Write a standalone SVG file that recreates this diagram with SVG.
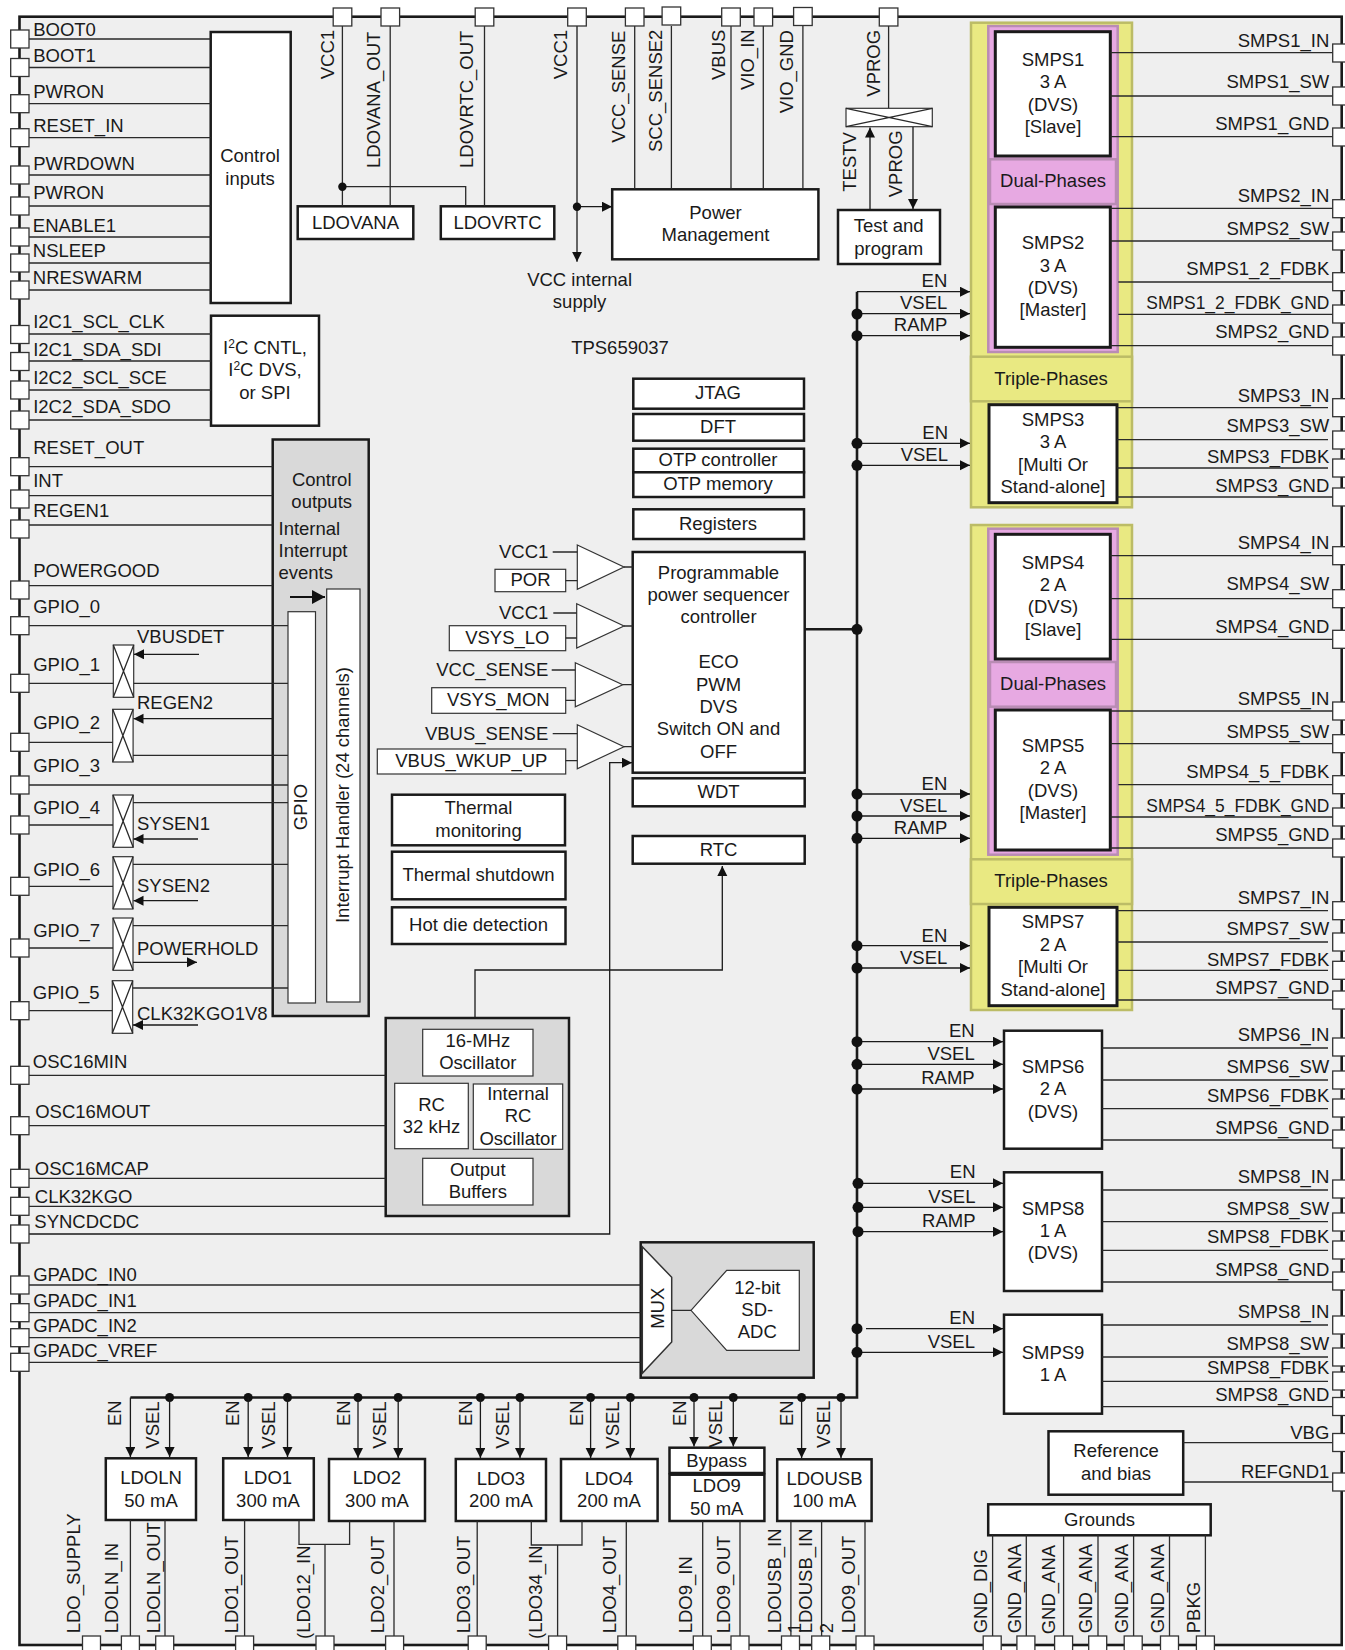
<svg xmlns="http://www.w3.org/2000/svg" width="1345" height="1650" viewBox="0 0 1345 1650">
<style>
text{font-family:"Liberation Sans",Arial,sans-serif;font-size:18.5px;fill:#1a1a1a}
.m{text-anchor:middle}.e{text-anchor:end}
.b{fill:#fff;stroke:#1a1a1a;stroke-width:2.5}
.t{fill:#fff;stroke:#333;stroke-width:1.2}
.g{fill:#d9d9d9;stroke:#1a1a1a;stroke-width:2.5}
.y{fill:#e9e982;stroke:#bcbc66;stroke-width:2.5}
.p{fill:#e7a9e2;stroke:#b98cb4;stroke-width:2.5}
.pin{fill:#fff;stroke:#333;stroke-width:1.3}
.l{fill:none;stroke:#2a2a2a;stroke-width:1.3}
.a{fill:none;stroke:#1a1a1a;stroke-width:1.3;marker-end:url(#ah)}
.bus{fill:none;stroke:#1a1a1a;stroke-width:2.6}
.d{fill:#111}
</style>
<defs>
<marker id="ah" markerUnits="userSpaceOnUse" markerWidth="11" markerHeight="11" refX="10" refY="5" orient="auto"><path d="M0,0L10,5L0,10z" fill="#111"/></marker>
<marker id="ahb" markerUnits="userSpaceOnUse" markerWidth="14" markerHeight="14" refX="13" refY="7" orient="auto"><path d="M0,0L13,7L0,14z" fill="#111"/></marker>
</defs>
<rect width="1345" height="1650" fill="#fff"/>
<rect id="chip" x="19.5" y="16.7" width="1322.2" height="1628.3" fill="#efefef" stroke="#1a1a1a" stroke-width="2.6"/>

<g id="control-inputs"><rect class="b" x="210.7" y="32" width="80" height="271"/><text class="m" x="250" y="162">Control</text><text class="m" x="250" y="185">inputs</text></g>
<g id="i2c"><rect class="b" x="211" y="315.7" width="108" height="110"/><text class="m" x="265" y="354">I<tspan dy="-6" font-size="12">2</tspan><tspan dy="6">C CNTL,</tspan></text><text class="m" x="265" y="376">I<tspan dy="-6" font-size="12">2</tspan><tspan dy="6">C DVS,</tspan></text><text class="m" x="265" y="398.7">or SPI</text></g>
<g id="control-outputs"><rect class="g" x="272.7" y="439.5" width="96" height="576.5"/><text class="m" x="321.7" y="486">Control</text><text class="m" x="321.7" y="508">outputs</text><text x="278.5" y="535">Internal</text><text x="278.5" y="557">Interrupt</text><text x="278.5" y="579">events</text></g>
<g id="gpio"><rect class="t" x="288" y="611.7" width="27.5" height="391.3"/><text class="m" transform="translate(307,807) rotate(-90)">GPIO</text></g>
<g id="interrupt-handler"><rect class="t" x="326.7" y="589" width="33.3" height="413"/><text class="m" transform="translate(349,795) rotate(-90)">Interrupt Handler (24 channels)</text></g>

<g id="mux-gpio1"><rect class="t" x="113.3" y="645" width="20.4" height="52.3"/><path class="l" d="M113.3,645L133.7,697.3M133.7,645L113.3,697.3"/></g>
<g id="mux-gpio2"><rect class="t" x="112.7" y="709.3" width="20.4" height="52.7"/><path class="l" d="M112.7,709.3L133.1,762M133.1,709.3L112.7,762"/></g>
<g id="mux-gpio4"><rect class="t" x="113" y="795" width="20.2" height="52.3"/><path class="l" d="M113,795L133.2,847.3M133.2,795L113,847.3"/></g>
<g id="mux-gpio6"><rect class="t" x="113" y="856.7" width="20" height="52.3"/><path class="l" d="M113,856.7L133,909M133,856.7L113,909"/></g>
<g id="mux-gpio7"><rect class="t" x="113" y="918" width="20" height="52.3"/><path class="l" d="M113,918L133,970.3M133,918L113,970.3"/></g>
<g id="mux-gpio5"><rect class="t" x="112.3" y="980.7" width="20.4" height="52.6"/><path class="l" d="M112.3,980.7L132.7,1033.3M132.7,980.7L112.3,1033.3"/></g>

<g id="ldovana"><rect class="b" x="297.7" y="206.3" width="115.6" height="32.7"/><text class="m" x="355.5" y="229">LDOVANA</text></g>
<g id="ldovrtc"><rect class="b" x="440.8" y="206.3" width="113.5" height="32.7"/><text class="m" x="497.5" y="229">LDOVRTC</text></g>
<g id="power-management"><rect class="b" x="612.2" y="189.3" width="206.2" height="70"/><text class="m" x="715.5" y="219">Power</text><text class="m" x="715.5" y="241">Management</text></g>
<g id="vprog-switch"><rect class="t" x="846" y="108.3" width="86.3" height="18.4"/><path class="l" d="M846,108.3L932.3,126.7M932.3,108.3L846,126.7"/></g>
<g id="test-program"><rect class="b" x="838" y="210" width="102" height="54"/><text class="m" x="888.7" y="232">Test and</text><text class="m" x="888.7" y="254.7">program</text></g>

<g id="vcc-internal"><text class="m" x="579.6" y="285.7">VCC internal</text><text class="m" x="579.6" y="308">supply</text></g>
<text id="part-number" class="m" x="620" y="354">TPS659037</text>

<g id="jtag"><rect class="b" x="633.3" y="378.7" width="170.7" height="30"/><text class="m" x="718" y="399.3">JTAG</text></g>
<g id="dft"><rect class="b" x="633.3" y="414" width="170.7" height="26.7"/><text class="m" x="718" y="432.7">DFT</text></g>
<g id="otp-controller"><rect class="b" x="633.3" y="448.7" width="170.7" height="23.6"/><text class="m" x="718" y="466">OTP controller</text></g>
<g id="otp-memory"><rect class="b" x="633.3" y="472.3" width="170.7" height="24.7"/><text class="m" x="718" y="490">OTP memory</text></g>
<g id="registers"><rect class="b" x="633.3" y="509.3" width="170.7" height="29.7"/><text class="m" x="718" y="530.3">Registers</text></g>
<g id="sequencer"><rect class="b" x="632.7" y="552" width="172" height="220.7"/><text class="m" x="718.5" y="579.3">Programmable</text><text class="m" x="718.5" y="601">power sequencer</text><text class="m" x="718.5" y="623.3">controller</text><text class="m" x="718.5" y="667.7">ECO</text><text class="m" x="718.5" y="691">PWM</text><text class="m" x="718.5" y="712.7">DVS</text><text class="m" x="718.5" y="735">Switch ON and</text><text class="m" x="718.5" y="757.7">OFF</text></g>
<g id="wdt"><rect class="b" x="632.7" y="778.3" width="172" height="28"/><text class="m" x="718.5" y="798">WDT</text></g>
<g id="rtc"><rect class="b" x="632.7" y="836" width="172" height="27.7"/><text class="m" x="718.5" y="856">RTC</text></g>

<g id="cmp-por"><polygon class="t" points="577.3,545 624,567 577.3,589.3"/><rect class="t" x="495" y="569.3" width="70.7" height="22.4"/><text class="m" x="530.5" y="586">POR</text><text class="e" x="548.3" y="558">VCC1</text></g>
<g id="cmp-vsys-lo"><polygon class="t" points="576.7,603.7 624,626 576.7,648"/><rect class="t" x="449.3" y="625.7" width="116.4" height="25"/><text class="m" x="507.3" y="644.3">VSYS_LO</text><text class="e" x="548.3" y="619">VCC1</text></g>
<g id="cmp-vsys-mon"><polygon class="t" points="575.3,662.7 622.7,684.7 575.3,706.7"/><rect class="t" x="431.7" y="687.7" width="134" height="25.6"/><text class="m" x="498.3" y="706">VSYS_MON</text><text class="e" x="548.3" y="675.7">VCC_SENSE</text></g>
<g id="cmp-vbus"><polygon class="t" points="577.3,724.7 624,746.7 577.3,768.7"/><rect class="t" x="377.3" y="749" width="188.4" height="25"/><text class="m" x="471.3" y="767">VBUS_WKUP_UP</text><text class="e" x="548.3" y="740">VBUS_SENSE</text></g>

<g id="thermal-monitoring"><rect class="b" x="392" y="794.7" width="173" height="50.6"/><text class="m" x="478.5" y="814">Thermal</text><text class="m" x="478.5" y="837.3">monitoring</text></g>
<g id="thermal-shutdown"><rect class="b" x="392" y="851.7" width="173.5" height="47.6"/><text class="m" x="478.5" y="881">Thermal shutdown</text></g>
<g id="hot-die"><rect class="b" x="392" y="907.3" width="173.5" height="36.7"/><text class="m" x="478.5" y="931.3">Hot die detection</text></g>

<g id="oscillators"><rect class="g" x="385.7" y="1018" width="183.3" height="198"/>
<rect class="t" x="422.7" y="1029.3" width="110.3" height="46.7"/><text class="m" x="477.8" y="1047.3">16-MHz</text><text class="m" x="477.8" y="1069">Oscillator</text>
<rect class="t" x="394.7" y="1083.3" width="73.6" height="65.4"/><text class="m" x="431.5" y="1111">RC</text><text class="m" x="431.5" y="1133.3">32 kHz</text>
<rect class="t" x="473.3" y="1084" width="89.4" height="65.3"/><text class="m" x="518" y="1100">Internal</text><text class="m" x="518" y="1122">RC</text><text class="m" x="518" y="1144.7">Oscillator</text>
<rect class="t" x="422.7" y="1158.3" width="110.3" height="46.7"/><text class="m" x="477.8" y="1176">Output</text><text class="m" x="477.8" y="1198">Buffers</text></g>

<g id="adc"><rect class="g" x="640.7" y="1242.3" width="173" height="135.4"/>
<polygon class="t" style="stroke-width:1.5" points="642.3,1246.7 671.7,1277.3 671.7,1342 642.3,1373.3"/><text class="m" transform="translate(664,1308.3) rotate(-90)">MUX</text>
<polygon class="t" points="691,1310.3 726.7,1270.3 799.3,1270.3 799.3,1350.3 726.7,1350.3"/><text class="m" x="757.3" y="1294">12-bit</text><text class="m" x="757.3" y="1316">SD-</text><text class="m" x="757.3" y="1337.7">ADC</text></g>

<g id="triple-phase-1"><rect class="y" x="971" y="22.7" width="161" height="484.6"/><rect class="y" x="971" y="356.7" width="161" height="44.6"/><text class="m" x="1051" y="385">Triple-Phases</text></g>
<g id="dual-phase-1"><rect class="p" x="988.3" y="26" width="129.4" height="326"/><rect class="p" x="990" y="159.3" width="126" height="44.7"/><text class="m" x="1053" y="187">Dual-Phases</text></g>
<g id="smps1"><rect class="b" style="stroke-width:3" x="995.3" y="31.7" width="115" height="124.3"/><text class="m" x="1053" y="66">SMPS1</text><text class="m" x="1053" y="88">3 A</text><text class="m" x="1053" y="110.7">(DVS)</text><text class="m" x="1053" y="133">[Slave]</text></g>
<g id="smps2"><rect class="b" style="stroke-width:3" x="995.3" y="207" width="115" height="140.3"/><text class="m" x="1053" y="248.7">SMPS2</text><text class="m" x="1053" y="272">3 A</text><text class="m" x="1053" y="294">(DVS)</text><text class="m" x="1053" y="316">[Master]</text></g>
<g id="smps3"><rect class="b" style="stroke-width:3" x="989" y="404.7" width="128" height="98"/><text class="m" x="1053" y="425.7">SMPS3</text><text class="m" x="1053" y="448">3 A</text><text class="m" x="1053" y="471">[Multi Or</text><text class="m" x="1053" y="493">Stand-alone]</text></g>

<g id="triple-phase-2"><rect class="y" x="971" y="525" width="161" height="485"/><rect class="y" x="971" y="859.3" width="161" height="44.7"/><text class="m" x="1051" y="887">Triple-Phases</text></g>
<g id="dual-phase-2"><rect class="p" x="988.3" y="528.7" width="129.4" height="326"/><rect class="p" x="990" y="662" width="126" height="44.7"/><text class="m" x="1053" y="690">Dual-Phases</text></g>
<g id="smps4"><rect class="b" style="stroke-width:3" x="995.3" y="534.3" width="115" height="124.7"/><text class="m" x="1053" y="569.3">SMPS4</text><text class="m" x="1053" y="591.3">2 A</text><text class="m" x="1053" y="613.3">(DVS)</text><text class="m" x="1053" y="636">[Slave]</text></g>
<g id="smps5"><rect class="b" style="stroke-width:3" x="995.3" y="710" width="115" height="140"/><text class="m" x="1053" y="752">SMPS5</text><text class="m" x="1053" y="774.3">2 A</text><text class="m" x="1053" y="797.3">(DVS)</text><text class="m" x="1053" y="819.3">[Master]</text></g>
<g id="smps7"><rect class="b" style="stroke-width:3" x="989" y="907.3" width="128" height="98.4"/><text class="m" x="1053" y="928.3">SMPS7</text><text class="m" x="1053" y="951">2 A</text><text class="m" x="1053" y="973.3">[Multi Or</text><text class="m" x="1053" y="996">Stand-alone]</text></g>
<g id="smps6"><rect class="b" x="1004" y="1030.7" width="98" height="118"/><text class="m" x="1053" y="1072.7">SMPS6</text><text class="m" x="1053" y="1095">2 A</text><text class="m" x="1053" y="1117.7">(DVS)</text></g>
<g id="smps8"><rect class="b" x="1004" y="1172.3" width="98" height="118.7"/><text class="m" x="1053" y="1215">SMPS8</text><text class="m" x="1053" y="1237">1 A</text><text class="m" x="1053" y="1259.3">(DVS)</text></g>
<g id="smps9"><rect class="b" x="1004" y="1314.7" width="98" height="99"/><text class="m" x="1053" y="1359">SMPS9</text><text class="m" x="1053" y="1381">1 A</text></g>
<g id="reference"><rect class="b" x="1048.5" y="1431.3" width="134.7" height="63.4"/><text class="m" x="1116" y="1457">Reference</text><text class="m" x="1116" y="1480">and bias</text></g>
<g id="grounds"><rect class="b" x="988.2" y="1504.3" width="222.5" height="31"/><text class="m" x="1099.6" y="1525.7">Grounds</text></g>

<g id="ldoln"><rect class="b" x="105.8" y="1458.3" width="90.2" height="61.7"/><text class="m" x="151" y="1484">LDOLN</text><text class="m" x="151" y="1507">50 mA</text></g>
<g id="ldo1"><rect class="b" x="223.2" y="1458.3" width="90.6" height="61.7"/><text class="m" x="268" y="1484">LDO1</text><text class="m" x="268" y="1507">300 mA</text></g>
<g id="ldo2"><rect class="b" x="329" y="1459" width="96" height="62"/><text class="m" x="377" y="1484">LDO2</text><text class="m" x="377" y="1507">300 mA</text></g>
<g id="ldo3"><rect class="b" x="455.8" y="1459" width="90.2" height="62"/><text class="m" x="501" y="1485">LDO3</text><text class="m" x="501" y="1507">200 mA</text></g>
<g id="ldo4"><rect class="b" x="561" y="1459" width="96.6" height="62"/><text class="m" x="609" y="1485">LDO4</text><text class="m" x="609" y="1507">200 mA</text></g>
<g id="ldo9"><rect class="b" x="669.5" y="1447.7" width="94.9" height="25.3"/><text class="m" x="716.7" y="1466.7">Bypass</text><rect class="b" x="669.5" y="1474.7" width="94.9" height="46.3"/><text class="m" x="716.7" y="1491.7">LDO9</text><text class="m" x="716.7" y="1515">50 mA</text></g>
<g id="ldousb"><rect class="b" x="777.2" y="1459.3" width="94.4" height="61.7"/><text class="m" x="824.5" y="1485">LDOUSB</text><text class="m" x="824.5" y="1507">100 mA</text></g>

<g id="connectors">
<path class="l" d="M29,39H210.7M29,67.5H210.7M29,103.7H210.7M29,137.7H210.7M29,175H210.7M29,206H210.7M29,237H210.7M29,263H210.7M29,290H210.7M29,334H211M29,361H211M29,390H211M29,420H211"/>
<path class="l" d="M29,466.7H272.7M29,495.7H272.7M29,525H272.7M29,585.7H272.7M29,625.7H288M29,683.3H113.3M133.7,683.3H288M29,742.3H112.7M133,755.3H288M29,785H288M29,825H113M133,802.7H288M29,886.3H113M133,864.3H288M29,948H113M133,925.7H288M29,1010.7H112.3M132.7,988H288"/>
<path class="a" d="M199,654.3H134"/><path class="a" d="M272.7,718.7H133.5"/><path class="a" d="M198,839H133.5"/><path class="a" d="M198,900.7H133.5"/><path class="a" d="M133,962.3H197"/><path class="a" d="M198,1025H133"/>
<path fill="none" stroke="#111" stroke-width="2" marker-end="url(#ahb)" d="M290,597H325"/>
<path class="l" d="M29,1075.3H385.7M29,1125.7H385.7M29,1178.3H385.7M29,1206.3H385.7"/>
<path class="a" d="M29,1234H609.7V762.7H632"/>
<path class="a" d="M475,1018V970H722.3V866"/>
<path class="l" d="M29,1285H640.7M29,1312.7H640.7M29,1337.7H640.7M29,1362.3H640.7M671.7,1310.3H691"/>
<path class="l" d="M342.4,26V206M390.2,26V206M484.5,26V206M342.4,186.7H465.7V206"/>
<circle class="d" cx="342.4" cy="186.7" r="4.2"/>
<path class="a" d="M577,26V261.7"/><path class="a" d="M577,206.7H612"/><circle class="d" cx="577" cy="206.7" r="4.2"/>
<path class="l" d="M634.7,26V189M671.4,26V189M731,26V189M763.3,26V189M802.9,26V189M888.6,26V108"/>
<path class="a" d="M870,210V127.5"/><path class="a" d="M913,127V209"/>
<path class="l" d="M552.7,552H577.3M565.7,580.7H577.3M624,567H632.7M553.3,613H576.7M565.7,638H576.7M624,626H632.7M551.7,670H575.3M565.7,700.3H575.3M622.7,684.7H632.7M552.7,733.7H577.3M565.7,760.7H577.3M624,746.7H632.7"/>
<path class="bus" d="M804.7,629.3H857M857,291.7V1397.5H130.4"/>
<path class="a" d="M857,291.7H970"/><path class="a" d="M857,313.7H970"/><path class="a" d="M857,335.7H970"/><path class="a" d="M857,443.3H970"/><path class="a" d="M857,465.3H970"/>
<path class="a" d="M857,794H970"/><path class="a" d="M857,816H970"/><path class="a" d="M857,838.3H970"/><path class="a" d="M857,945.7H970"/><path class="a" d="M857,968H970"/>
<path class="a" d="M857,1041.7H1003"/><path class="a" d="M857,1064.3H1003"/><path class="a" d="M857,1089H1003"/><path class="a" d="M857,1183.3H1003"/><path class="a" d="M857,1207.3H1003"/><path class="a" d="M857,1231.7H1003"/><path class="a" d="M866,1328.7H1003"/><path class="a" d="M857,1352.3H1003"/>
<g class="d"><circle cx="857" cy="314" r="5.5"/><circle cx="857" cy="335.7" r="5.5"/><circle cx="857" cy="443.3" r="5.5"/><circle cx="857" cy="465.3" r="5.5"/><circle cx="857" cy="629.3" r="5.5"/><circle cx="857" cy="794" r="5.5"/><circle cx="857" cy="816" r="5.5"/><circle cx="857" cy="838.3" r="5.5"/><circle cx="857" cy="945.7" r="5.5"/><circle cx="857" cy="968" r="5.5"/><circle cx="857" cy="1041.7" r="5.5"/><circle cx="857" cy="1064.3" r="5.5"/><circle cx="857" cy="1089" r="5.5"/><circle cx="858" cy="1183.3" r="5.5"/><circle cx="858" cy="1207.3" r="5.5"/><circle cx="858" cy="1231.7" r="5.5"/><circle cx="857" cy="1328.7" r="5.5"/><circle cx="857" cy="1352.3" r="5.5"/>
<circle cx="169.6" cy="1397.5" r="4.5"/><circle cx="248.2" cy="1397.5" r="4.5"/><circle cx="287.5" cy="1397.5" r="4.5"/><circle cx="358" cy="1397.5" r="4.5"/><circle cx="398.2" cy="1397.5" r="4.5"/><circle cx="480.4" cy="1397.5" r="4.5"/><circle cx="520" cy="1397.5" r="4.5"/><circle cx="590.6" cy="1397.5" r="4.5"/><circle cx="630.4" cy="1397.5" r="4.5"/><circle cx="694" cy="1397.5" r="4.5"/><circle cx="733.3" cy="1397.5" r="4.5"/><circle cx="801.6" cy="1397.5" r="4.5"/><circle cx="841" cy="1397.5" r="4.5"/></g>
<path class="a" d="M130.4,1397.5V1457"/><path class="a" d="M169.6,1397.5V1457"/><path class="a" d="M248.2,1397.5V1457"/><path class="a" d="M287.5,1397.5V1457"/><path class="a" d="M358,1397.5V1458"/><path class="a" d="M398.2,1397.5V1458"/><path class="a" d="M480.4,1397.5V1458"/><path class="a" d="M520,1397.5V1458"/><path class="a" d="M590.6,1397.5V1458"/><path class="a" d="M630.4,1397.5V1458"/><path class="a" d="M694,1397.5V1446.5"/><path class="a" d="M733.3,1397.5V1446.5"/><path class="a" d="M801.6,1397.5V1458"/><path class="a" d="M841,1397.5V1458"/>
<path class="l" d="M130.4,1520V1636M165,1520V1636M244.6,1520V1636M299,1520V1544.3H349.6V1521M325,1544.3V1636M394,1521V1636M477.2,1521V1636M531.3,1521V1545H582V1521M557.6,1545V1636M626.3,1521V1636M702.7,1521V1636M740,1521V1636M790.9,1521V1636M821.6,1521V1636M865,1521V1636"/>
<path class="l" d="M992.6,1535V1636M1026.3,1535V1636M1063.6,1535V1636M1098,1535V1636M1133.6,1535V1636M1169.5,1535V1636M1205.4,1535V1636"/>
<path class="l" d="M1110.3,52.7H1333M1110.3,96H1333M1110.3,136.7H1333M1110.3,208.3H1333M1110.3,241H1333M1118.3,282H1333M1118.3,314.3H1333M1110.3,345.7H1333M1117,407.7H1328M1117,439.7H1328M1117,468H1328M1117,497H1333"/>
<path class="l" d="M1110.3,555.7H1333M1110.3,598.7H1333M1110.3,639.3H1333M1110.3,711H1333M1110.3,743.7H1333M1118.3,784.7H1333M1110.3,817H1333M1110.3,848H1333M1117,910.7H1328M1117,942H1328M1117,970.3H1328M1117,1000H1333"/>
<path class="l" d="M1102,1048H1328M1102,1080H1328M1102,1108.7H1328M1102,1140H1333M1102,1190H1328M1102,1221.7H1328M1102,1250.3H1328M1102,1282H1333M1102,1325H1328M1102,1357H1328M1102,1381.3H1328M1102,1406.7H1333M1183.2,1442.7H1333M1183.2,1482H1333"/>
</g>

<g id="bus-labels">
<text class="e" x="947.3" y="286.7">EN</text><text class="e" x="947.3" y="309">VSEL</text><text class="e" x="947.3" y="331">RAMP</text><text class="e" x="948" y="438.7">EN</text><text class="e" x="948" y="460.7">VSEL</text>
<text class="e" x="947.3" y="790">EN</text><text class="e" x="947.3" y="811.7">VSEL</text><text class="e" x="947.3" y="833.7">RAMP</text><text class="e" x="947.3" y="942">EN</text><text class="e" x="947.3" y="964">VSEL</text>
<text class="e" x="974.7" y="1036.7">EN</text><text class="e" x="974.7" y="1060">VSEL</text><text class="e" x="974.7" y="1084">RAMP</text><text class="e" x="975.5" y="1178">EN</text><text class="e" x="975.5" y="1202.7">VSEL</text><text class="e" x="975.5" y="1226.7">RAMP</text><text class="e" x="975" y="1324">EN</text><text class="e" x="975" y="1347.7">VSEL</text>
<text transform="translate(121.4,1426) rotate(-90)">EN</text><text transform="translate(158.5,1448.7) rotate(-90)">VSEL</text><text transform="translate(239,1426) rotate(-90)">EN</text><text transform="translate(275.4,1448.7) rotate(-90)">VSEL</text><text transform="translate(350,1426) rotate(-90)">EN</text><text transform="translate(386,1448.7) rotate(-90)">VSEL</text><text transform="translate(472.3,1426) rotate(-90)">EN</text><text transform="translate(509,1448.7) rotate(-90)">VSEL</text><text transform="translate(583,1426) rotate(-90)">EN</text><text transform="translate(619,1448.7) rotate(-90)">VSEL</text><text transform="translate(685.5,1426) rotate(-90)">EN</text><text transform="translate(721.8,1447.7) rotate(-90)">VSEL</text><text transform="translate(792.7,1426) rotate(-90)">EN</text><text transform="translate(829.5,1448) rotate(-90)">VSEL</text>
<text x="137" y="643">VBUSDET</text><text x="137" y="709">REGEN2</text><text x="137" y="830">SYSEN1</text><text x="137" y="892">SYSEN2</text><text x="137" y="955">POWERHOLD</text><text x="137" y="1020">CLK32KGO1V8</text>
<text transform="translate(856,191.7) rotate(-90)">TESTV</text><text transform="translate(902.3,197.3) rotate(-90)">VPROG</text>
</g>

<g id="pins-left">
<g id="pin-boot0"><rect class="pin" x="10.7" y="30" width="18.3" height="18"/><text x="33.2" y="36">BOOT0</text></g>
<g id="pin-boot1"><rect class="pin" x="10.7" y="58.5" width="18.3" height="18"/><text x="33.2" y="62">BOOT1</text></g>
<g id="pin-pwron"><rect class="pin" x="10.7" y="94.7" width="18.3" height="18"/><text x="33.2" y="97.7">PWRON</text></g>
<g id="pin-reset-in"><rect class="pin" x="10.7" y="128.7" width="18.3" height="18"/><text x="33.2" y="132">RESET_IN</text></g>
<g id="pin-pwrdown"><rect class="pin" x="10.7" y="166" width="18.3" height="18"/><text x="33.2" y="170">PWRDOWN</text></g>
<g id="pin-pwron2"><rect class="pin" x="10.7" y="197" width="18.3" height="18"/><text x="33.2" y="199">PWRON</text></g>
<g id="pin-enable1"><rect class="pin" x="10.7" y="228" width="18.3" height="18"/><text x="32.8" y="232">ENABLE1</text></g>
<g id="pin-nsleep"><rect class="pin" x="10.7" y="254" width="18.3" height="18"/><text x="32.8" y="257">NSLEEP</text></g>
<g id="pin-nreswarm"><rect class="pin" x="10.7" y="281" width="18.3" height="18"/><text x="32.8" y="284">NRESWARM</text></g>
<g id="pin-i2c1-scl"><rect class="pin" x="10.7" y="325.5" width="18.3" height="18"/><text x="33.2" y="328">I2C1_SCL_CLK</text></g>
<g id="pin-i2c1-sda"><rect class="pin" x="10.7" y="352.5" width="18.3" height="18"/><text x="33.2" y="356">I2C1_SDA_SDI</text></g>
<g id="pin-i2c2-scl"><rect class="pin" x="10.7" y="381" width="18.3" height="18"/><text x="33.2" y="384">I2C2_SCL_SCE</text></g>
<g id="pin-i2c2-sda"><rect class="pin" x="10.7" y="411" width="18.3" height="18"/><text x="33.2" y="413">I2C2_SDA_SDO</text></g>
<g id="pin-reset-out"><rect class="pin" x="10.7" y="457.7" width="18.3" height="18"/><text x="33.2" y="454">RESET_OUT</text></g>
<g id="pin-int"><rect class="pin" x="10.7" y="490" width="18.3" height="18"/><text x="33.2" y="487">INT</text></g>
<g id="pin-regen1"><rect class="pin" x="10.7" y="520" width="18.3" height="18"/><text x="33.2" y="517">REGEN1</text></g>
<g id="pin-powergood"><rect class="pin" x="10.7" y="581" width="18.3" height="18"/><text x="33.2" y="577">POWERGOOD</text></g>
<g id="pin-gpio0"><rect class="pin" x="10.7" y="616.7" width="18.3" height="18"/><text x="33.2" y="613">GPIO_0</text></g>
<g id="pin-gpio1"><rect class="pin" x="10.7" y="674.3" width="18.3" height="18"/><text x="33.2" y="671">GPIO_1</text></g>
<g id="pin-gpio2"><rect class="pin" x="10.7" y="733.3" width="18.3" height="18"/><text x="33.2" y="729">GPIO_2</text></g>
<g id="pin-gpio3"><rect class="pin" x="10.7" y="776" width="18.3" height="18"/><text x="33.2" y="772">GPIO_3</text></g>
<g id="pin-gpio4"><rect class="pin" x="10.7" y="816" width="18.3" height="18"/><text x="33.2" y="814">GPIO_4</text></g>
<g id="pin-gpio6"><rect class="pin" x="10.7" y="877.3" width="18.3" height="18"/><text x="33.2" y="876">GPIO_6</text></g>
<g id="pin-gpio7"><rect class="pin" x="10.7" y="939" width="18.3" height="18"/><text x="33.2" y="936.5">GPIO_7</text></g>
<g id="pin-gpio5"><rect class="pin" x="10.7" y="1001.7" width="18.3" height="18"/><text x="32.8" y="998.7">GPIO_5</text></g>
<g id="pin-osc16min"><rect class="pin" x="10.7" y="1066.3" width="18.3" height="18"/><text x="32.8" y="1068">OSC16MIN</text></g>
<g id="pin-osc16mout"><rect class="pin" x="10.7" y="1116.7" width="18.3" height="18"/><text x="35.2" y="1118">OSC16MOUT</text></g>
<g id="pin-osc16mcap"><rect class="pin" x="10.7" y="1169.3" width="18.3" height="18"/><text x="34.8" y="1175">OSC16MCAP</text></g>
<g id="pin-clk32kgo"><rect class="pin" x="10.7" y="1197.3" width="18.3" height="18"/><text x="34.8" y="1203">CLK32KGO</text></g>
<g id="pin-syncdcdc"><rect class="pin" x="10.7" y="1225" width="18.3" height="18"/><text x="34.3" y="1228">SYNCDCDC</text></g>
<g id="pin-gpadc0"><rect class="pin" x="10.7" y="1276" width="18.3" height="18"/><text x="33.2" y="1281">GPADC_IN0</text></g>
<g id="pin-gpadc1"><rect class="pin" x="10.7" y="1303.7" width="18.3" height="18"/><text x="33.2" y="1307">GPADC_IN1</text></g>
<g id="pin-gpadc2"><rect class="pin" x="10.7" y="1328.7" width="18.3" height="18"/><text x="33.2" y="1332">GPADC_IN2</text></g>
<g id="pin-gpadc-vref"><rect class="pin" x="10.7" y="1353.3" width="18.3" height="18"/><text x="33.2" y="1357">GPADC_VREF</text></g>
</g>

<g id="pins-top">
<g id="pin-vcc1"><rect class="pin" x="333.2" y="8" width="18.6" height="18"/><text transform="translate(333.5,79.3) rotate(-90)">VCC1</text></g>
<g id="pin-ldovana-out"><rect class="pin" x="381" y="8" width="18.6" height="18"/><text transform="translate(379.6,168) rotate(-90)">LDOVANA_OUT</text></g>
<g id="pin-ldovrtc-out"><rect class="pin" x="475.2" y="8" width="18.6" height="18"/><text transform="translate(472.6,168) rotate(-90)">LDOVRTC_OUT</text></g>
<g id="pin-vcc1b"><rect class="pin" x="567.7" y="8" width="18.6" height="18"/><text transform="translate(567,79.3) rotate(-90)">VCC1</text></g>
<g id="pin-vcc-sense"><rect class="pin" x="625.4" y="8" width="18.6" height="18"/><text transform="translate(625,142.7) rotate(-90)">VCC_SENSE</text></g>
<g id="pin-scc-sense2"><rect class="pin" x="662.1" y="7" width="18.6" height="18"/><text transform="translate(662,152) rotate(-90)">SCC_SENSE2</text></g>
<g id="pin-vbus"><rect class="pin" x="721.7" y="8" width="18.6" height="18"/><text transform="translate(724.5,80) rotate(-90)">VBUS</text></g>
<g id="pin-vio-in"><rect class="pin" x="754" y="8" width="18.6" height="18"/><text transform="translate(754,90) rotate(-90)">VIO_IN</text></g>
<g id="pin-vio-gnd"><rect class="pin" x="793.6" y="7.5" width="18.6" height="18"/><text transform="translate(793,113.3) rotate(-90)">VIO_GND</text></g>
<g id="pin-vprog"><rect class="pin" x="879.3" y="8" width="18.6" height="18"/><text transform="translate(879.6,96.7) rotate(-90)">VPROG</text></g>
</g>

<g id="pins-right">
<g id="pin-s1in"><rect class="pin" x="1332.7" y="44" width="18.3" height="18"/><text class="e" x="1329.3" y="46.7">SMPS1_IN</text></g>
<g id="pin-s1sw"><rect class="pin" x="1332.7" y="87" width="18.3" height="18"/><text class="e" x="1329.3" y="88.3">SMPS1_SW</text></g>
<g id="pin-s1gnd"><rect class="pin" x="1332.7" y="128" width="18.3" height="18"/><text class="e" x="1329.3" y="130">SMPS1_GND</text></g>
<g id="pin-s2in"><rect class="pin" x="1332.7" y="199.7" width="18.3" height="18"/><text class="e" x="1329.3" y="201.7">SMPS2_IN</text></g>
<g id="pin-s2sw"><rect class="pin" x="1332.7" y="232" width="18.3" height="18"/><text class="e" x="1329.3" y="235">SMPS2_SW</text></g>
<g id="pin-s12fb"><rect class="pin" x="1332.7" y="272.7" width="18.3" height="18"/><text class="e" x="1329.3" y="275" textLength="143" lengthAdjust="spacingAndGlyphs">SMPS1_2_FDBK</text></g>
<g id="pin-s12fbg"><rect class="pin" x="1332.7" y="305" width="18.3" height="18"/><text class="e" x="1329.3" y="309.3" textLength="183" lengthAdjust="spacingAndGlyphs">SMPS1_2_FDBK_GND</text></g>
<g id="pin-s2gnd"><rect class="pin" x="1332.7" y="337" width="18.3" height="18"/><text class="e" x="1329.3" y="337.7">SMPS2_GND</text></g>
<g id="pin-s3in"><rect class="pin" x="1332.7" y="398.7" width="18.3" height="18"/><text class="e" x="1329.3" y="402">SMPS3_IN</text></g>
<g id="pin-s3sw"><rect class="pin" x="1332.7" y="431" width="18.3" height="18"/><text class="e" x="1329.3" y="432.3">SMPS3_SW</text></g>
<g id="pin-s3fb"><rect class="pin" x="1332.7" y="459" width="18.3" height="18"/><text class="e" x="1329.3" y="462.7">SMPS3_FDBK</text></g>
<g id="pin-s3gnd"><rect class="pin" x="1332.7" y="488" width="18.3" height="18"/><text class="e" x="1329.3" y="492">SMPS3_GND</text></g>
<g id="pin-s4in"><rect class="pin" x="1332.7" y="546.7" width="18.3" height="18"/><text class="e" x="1329.3" y="549.3">SMPS4_IN</text></g>
<g id="pin-s4sw"><rect class="pin" x="1332.7" y="589.7" width="18.3" height="18"/><text class="e" x="1329.3" y="590.3">SMPS4_SW</text></g>
<g id="pin-s4gnd"><rect class="pin" x="1332.7" y="630.3" width="18.3" height="18"/><text class="e" x="1329.3" y="633.3">SMPS4_GND</text></g>
<g id="pin-s5in"><rect class="pin" x="1332.7" y="702" width="18.3" height="18"/><text class="e" x="1329.3" y="705">SMPS5_IN</text></g>
<g id="pin-s5sw"><rect class="pin" x="1332.7" y="734.7" width="18.3" height="18"/><text class="e" x="1329.3" y="737.7">SMPS5_SW</text></g>
<g id="pin-s45fb"><rect class="pin" x="1332.7" y="775.7" width="18.3" height="18"/><text class="e" x="1329.3" y="778.3" textLength="143" lengthAdjust="spacingAndGlyphs">SMPS4_5_FDBK</text></g>
<g id="pin-s45fbg"><rect class="pin" x="1332.7" y="808" width="18.3" height="18"/><text class="e" x="1329.3" y="811.7" textLength="183" lengthAdjust="spacingAndGlyphs">SMPS4_5_FDBK_GND</text></g>
<g id="pin-s5gnd"><rect class="pin" x="1332.7" y="839" width="18.3" height="18"/><text class="e" x="1329.3" y="841">SMPS5_GND</text></g>
<g id="pin-s7in"><rect class="pin" x="1332.7" y="901.7" width="18.3" height="18"/><text class="e" x="1329.3" y="904.3">SMPS7_IN</text></g>
<g id="pin-s7sw"><rect class="pin" x="1332.7" y="933" width="18.3" height="18"/><text class="e" x="1329.3" y="935">SMPS7_SW</text></g>
<g id="pin-s7fb"><rect class="pin" x="1332.7" y="961.3" width="18.3" height="18"/><text class="e" x="1329.3" y="965.7">SMPS7_FDBK</text></g>
<g id="pin-s7gnd"><rect class="pin" x="1332.7" y="991" width="18.3" height="18"/><text class="e" x="1329.3" y="994">SMPS7_GND</text></g>
<g id="pin-s6in"><rect class="pin" x="1332.7" y="1038" width="18.3" height="18"/><text class="e" x="1329.3" y="1040.7">SMPS6_IN</text></g>
<g id="pin-s6sw"><rect class="pin" x="1332.7" y="1071" width="18.3" height="18"/><text class="e" x="1329.3" y="1072.7">SMPS6_SW</text></g>
<g id="pin-s6fb"><rect class="pin" x="1332.7" y="1099" width="18.3" height="18"/><text class="e" x="1329.3" y="1101.7">SMPS6_FDBK</text></g>
<g id="pin-s6gnd"><rect class="pin" x="1332.7" y="1130" width="18.3" height="18"/><text class="e" x="1329.3" y="1134">SMPS6_GND</text></g>
<g id="pin-s8in"><rect class="pin" x="1332.7" y="1180" width="18.3" height="18"/><text class="e" x="1329.3" y="1182.7">SMPS8_IN</text></g>
<g id="pin-s8sw"><rect class="pin" x="1332.7" y="1213" width="18.3" height="18"/><text class="e" x="1329.3" y="1215">SMPS8_SW</text></g>
<g id="pin-s8fb"><rect class="pin" x="1332.7" y="1241" width="18.3" height="18"/><text class="e" x="1329.3" y="1243">SMPS8_FDBK</text></g>
<g id="pin-s8gnd"><rect class="pin" x="1332.7" y="1272" width="18.3" height="18"/><text class="e" x="1329.3" y="1276">SMPS8_GND</text></g>
<g id="pin-s9in"><rect class="pin" x="1332.7" y="1316" width="18.3" height="18"/><text class="e" x="1329.3" y="1318">SMPS8_IN</text></g>
<g id="pin-s9sw"><rect class="pin" x="1332.7" y="1348" width="18.3" height="18"/><text class="e" x="1329.3" y="1350">SMPS8_SW</text></g>
<g id="pin-s9fb"><rect class="pin" x="1332.7" y="1372" width="18.3" height="18"/><text class="e" x="1329.3" y="1374">SMPS8_FDBK</text></g>
<g id="pin-s9gnd"><rect class="pin" x="1332.7" y="1397.5" width="18.3" height="18"/><text class="e" x="1329.3" y="1401">SMPS8_GND</text></g>
<g id="pin-vbg"><rect class="pin" x="1332.7" y="1433.5" width="18.3" height="18"/><text class="e" x="1329.3" y="1439.3">VBG</text></g>
<g id="pin-refgnd"><rect class="pin" x="1332.7" y="1473" width="18.3" height="18"/><text class="e" x="1329.3" y="1478">REFGND1</text></g>
</g>

<g id="pins-bottom">
<g id="pin-ldo-supply"><rect class="pin" x="82.5" y="1636" width="18" height="18"/><text transform="translate(79.5,1633.3) rotate(-90)">LDO_SUPPLY</text></g>
<g id="pin-ldoln-in"><rect class="pin" x="121.4" y="1636" width="18" height="18"/><text transform="translate(118.3,1633.3) rotate(-90)">LDOLN_IN</text></g>
<g id="pin-ldoln-out"><rect class="pin" x="155.7" y="1636" width="18" height="18"/><text transform="translate(159.8,1633.3) rotate(-90)">LDOLN_OUT</text></g>
<g id="pin-ldo1-out"><rect class="pin" x="235.6" y="1636" width="18" height="18"/><text transform="translate(238,1633.3) rotate(-90)">LDO1_OUT</text></g>
<g id="pin-ldo12-in"><rect class="pin" x="316" y="1636" width="18" height="18"/><text transform="translate(310.3,1639) rotate(-90)">(LDO12_IN</text></g>
<g id="pin-ldo2-out"><rect class="pin" x="385.6" y="1636" width="18" height="18"/><text transform="translate(384,1633.3) rotate(-90)">LDO2_OUT</text></g>
<g id="pin-ldo3-out"><rect class="pin" x="468.2" y="1636" width="18" height="18"/><text transform="translate(470,1633.3) rotate(-90)">LDO3_OUT</text></g>
<g id="pin-ldo34-in"><rect class="pin" x="548.6" y="1636" width="18" height="18"/><text transform="translate(542.4,1639) rotate(-90)">(LDO34_IN</text></g>
<g id="pin-ldo4-out"><rect class="pin" x="617.8" y="1636" width="18" height="18"/><text transform="translate(616,1633.3) rotate(-90)">LDO4_OUT</text></g>
<g id="pin-ldo9-in"><rect class="pin" x="693.3" y="1636" width="18" height="18"/><text transform="translate(692,1633.3) rotate(-90)">LDO9_IN</text></g>
<g id="pin-ldo9-out"><rect class="pin" x="731" y="1636" width="18" height="18"/><text transform="translate(729.8,1633.3) rotate(-90)">LDO9_OUT</text></g>
<g id="pin-ldousb-in1"><rect class="pin" x="781.5" y="1636" width="18" height="18"/><text transform="translate(780.8,1633.3) rotate(-90)">LDOUSB_IN</text><text transform="translate(800.7,1633.3) rotate(-90)">1</text></g>
<g id="pin-ldousb-in2"><rect class="pin" x="811.7" y="1636" width="18" height="18"/><text transform="translate(811.8,1633.3) rotate(-90)">LDOUSB_IN</text><text transform="translate(833,1633.3) rotate(-90)">2</text></g>
<g id="pin-ldo9-out2"><rect class="pin" x="856" y="1636" width="18" height="18"/><text transform="translate(855.2,1633.3) rotate(-90)">LDO9_OUT</text></g>
<g id="pin-gnd-dig"><rect class="pin" x="983.2" y="1636" width="18" height="18"/><text transform="translate(987,1633.3) rotate(-90)">GND_DIG</text></g>
<g id="pin-gnd1"><rect class="pin" x="1016.9" y="1636" width="18" height="18"/><text transform="translate(1021.4,1633.3) rotate(-90)">GND_ANA</text></g>
<g id="pin-gnd2"><rect class="pin" x="1054.6" y="1636" width="18" height="18"/><text transform="translate(1054.7,1634.3) rotate(-90)">GND_ANA</text></g>
<g id="pin-gnd3"><rect class="pin" x="1088.7" y="1636" width="18" height="18"/><text transform="translate(1092.4,1633.3) rotate(-90)">GND_ANA</text></g>
<g id="pin-gnd4"><rect class="pin" x="1124.2" y="1636" width="18" height="18"/><text transform="translate(1127.8,1633.3) rotate(-90)">GND_ANA</text></g>
<g id="pin-gnd5"><rect class="pin" x="1160.5" y="1636" width="18" height="18"/><text transform="translate(1164.2,1633.3) rotate(-90)">GND_ANA</text></g>
<g id="pin-pbkg"><rect class="pin" x="1196.4" y="1636" width="18" height="18"/><text transform="translate(1199.6,1633.3) rotate(-90)">PBKG</text></g>
</g>
</svg>
